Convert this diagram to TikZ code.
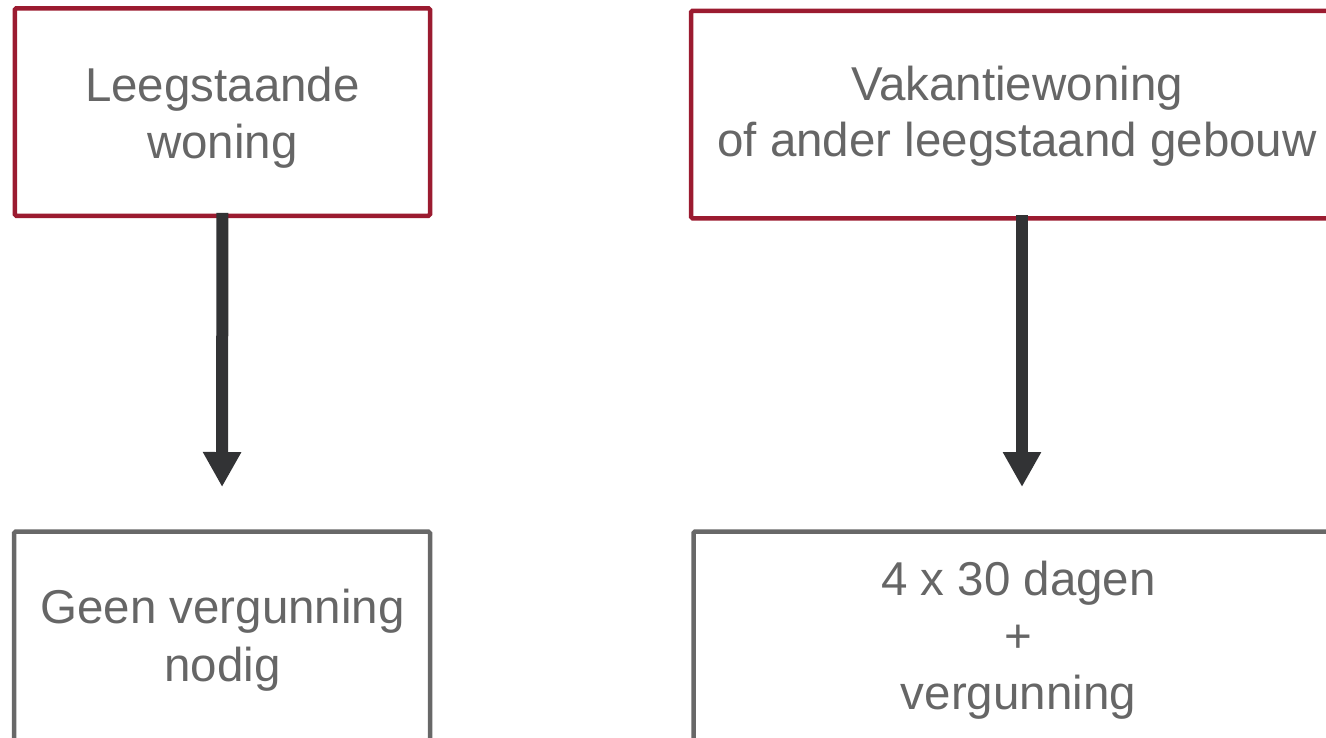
\documentclass[tikz,border=0pt]{standalone}
\usepackage{fontspec}
\setmainfont{Liberation Sans}
\usetikzlibrary{arrows.meta}
\definecolor{boxred}{RGB}{155,27,48}
\definecolor{boxgray}{RGB}{104,104,104}
\definecolor{txtgray}{RGB}{102,102,102}
\definecolor{arrowdark}{RGB}{50,51,53}
\begin{document}
\begin{tikzpicture}[x=1pt,y=-1pt,
  redbox/.style={draw=boxred, line width=4.5pt, rectangle, inner sep=0pt, outer sep=0pt, rounded corners=1.5pt},
  graybox/.style={draw=boxgray, line width=4.5pt, rectangle, inner sep=0pt, outer sep=0pt, rounded corners=1.5pt},
  lbl/.style={inner sep=0pt, anchor=base, text=txtgray, font=\fontsize{47.5}{57}\selectfont},
  flow/.style={draw=arrowdark, line width=12pt, -{Triangle[width=36pt,length=35pt]}}]
\useasboundingbox (0,0) rectangle (1326,737);
\clip (0,0) rectangle (1326,737);
% boxes
\node[redbox, minimum width=415.2pt, minimum height=207.5pt] (tl) at (222.4,112.05) {};
\node[redbox, minimum width=654pt, minimum height=207.5pt] (tr) at (1018,114.55) {};
\node[graybox, minimum width=416pt, minimum height=268.3pt] (bl) at (222,665.85) {};
\node[graybox, minimum width=651.5pt, minimum height=268.5pt] (br) at (1019.25,665.75) {};
% texts
\node[lbl] (t1) at (222.4,101) {\begin{tabular}[t]{@{}c@{}}Leegstaande\\woning\end{tabular}};
\node[lbl, font=\fontsize{47.5}{56}\selectfont] (t2) at (1017,100.5) {\begin{tabular}[t]{@{}c@{}}Vakantiewoning\\of ander leegstaand gebouw\end{tabular}};
\node[lbl, font=\fontsize{47.5}{58.5}\selectfont] (t3) at (222.5,623.3) {\begin{tabular}[t]{@{}c@{}}Geen vergunning\\nodig\end{tabular}};
\node[lbl] (t4) at (1018.5,595) {\begin{tabular}[t]{@{}c@{}}4 x 30 dagen\\+\\vergunning\end{tabular}};
% arrows
\coordinate (rx) at (1022,0);
\draw[flow, shorten <=-3pt, shorten >=44.7pt] (tl.south) -- (bl.north);
\draw[flow, shorten <=-3pt, shorten >=44.5pt] (tr.south -| rx) -- (br.north -| rx);
\end{tikzpicture}
\end{document}
